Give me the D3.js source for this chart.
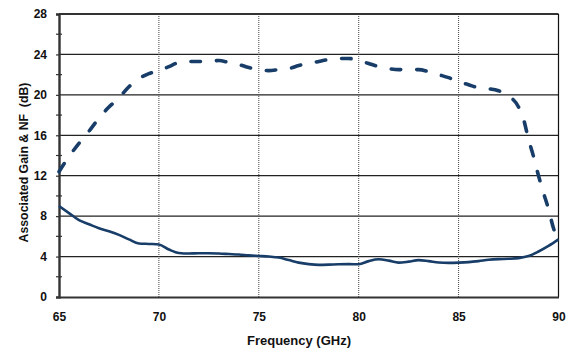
<!DOCTYPE html>
<html>
<head>
<meta charset="utf-8">
<script src="https://cdn.jsdelivr.net/npm/d3@7/dist/d3.min.js"></script>
<style>
  html, body { margin: 0; padding: 0; background: #fff; }
  svg { display: block; }
  text { font-family: Arial, "Liberation Sans", sans-serif; font-weight: bold; fill: #111; }
</style>
</head>
<body>
<svg id="chart" width="572" height="349"></svg>
<script>
// Associated gain (dashed) and noise figure (solid) versus frequency
const gainFreq = [65, 65.5, 66, 66.5, 67, 67.5, 68, 68.5, 69, 69.5, 70, 70.5, 71, 71.5, 72, 72.5, 73, 73.5, 74, 74.5, 75, 75.5, 76, 76.5, 77, 77.5, 78, 78.5, 79, 79.5, 80, 80.5, 81, 81.5, 82, 82.5, 83, 83.5, 84, 84.5, 85, 85.5, 86, 86.5, 87, 87.5, 88, 88.25, 88.5, 88.75, 89, 89.25, 89.5, 89.75, 90];
const gainDb = [12.4, 13.9, 15.2, 16.4, 17.7, 18.8, 19.7, 20.8, 21.6, 22.1, 22.4, 22.8, 23.2, 23.3, 23.3, 23.3, 23.4, 23.2, 23.0, 22.7, 22.5, 22.4, 22.5, 22.6, 22.9, 23.1, 23.3, 23.5, 23.6, 23.6, 23.4, 23.1, 22.8, 22.6, 22.5, 22.5, 22.5, 22.3, 22.0, 21.7, 21.3, 21.0, 20.7, 20.6, 20.4, 19.9, 18.8, 17.6, 15.6, 13.9, 12.0, 10.3, 8.7, 6.8, 5.6];

const nfFreq = [65, 65.5, 66, 66.5, 67, 67.5, 68, 68.5, 69, 69.5, 70, 70.5, 71, 71.5, 72, 72.5, 73, 73.5, 74, 74.5, 75, 75.5, 76, 76.5, 77, 77.5, 78, 78.5, 79, 79.5, 80, 80.5, 81, 81.5, 82, 82.5, 83, 83.5, 84, 84.5, 85, 85.5, 86, 86.5, 87, 87.5, 88, 88.5, 89, 89.5, 90];
const nfDb = [9.0, 8.3, 7.6, 7.2, 6.8, 6.5, 6.15, 5.7, 5.3, 5.25, 5.2, 4.7, 4.35, 4.3, 4.33, 4.33, 4.3, 4.25, 4.2, 4.12, 4.06, 4.0, 3.9, 3.65, 3.4, 3.25, 3.18, 3.2, 3.24, 3.25, 3.24, 3.55, 3.73, 3.6, 3.4, 3.5, 3.65, 3.55, 3.42, 3.38, 3.4, 3.45, 3.55, 3.68, 3.75, 3.78, 3.85, 4.05, 4.5, 5.05, 5.7];

const xTicks = [65, 70, 75, 80, 85, 90];
const yTicks = [0, 4, 8, 12, 16, 20, 24, 28];
const yMinorTicks = [2, 6, 10, 14, 18, 22, 26];

const xTitle = "Frequency (GHz)";
const yTitle = "Associated Gain & NF\u00a0\u00a0(dB)";

const svg = d3.select("#chart");
const plotLeft = 59, plotRight = 558.5, plotTop = 14, plotBottom = 297;

const x = d3.scaleLinear().domain([65, 90]).range([plotLeft, plotRight]);
const y = d3.scaleLinear().domain([0, 28]).range([plotBottom, plotTop]);

const lineColor = "#173d68";
const fontStack = "Arial, 'Liberation Sans', sans-serif";

// horizontal grid lines
svg.append("g").selectAll("line")
  .data(yTicks.filter(v => v > 0 && v < 28))
  .join("line")
  .attr("x1", plotLeft).attr("x2", plotRight)
  .attr("y1", d => y(d)).attr("y2", d => y(d))
  .attr("stroke", "#222").attr("stroke-width", 1.2);

// vertical dotted grid lines
svg.append("g").selectAll("line")
  .data(xTicks.filter(v => v > 65 && v < 90))
  .join("line")
  .attr("x1", d => x(d)).attr("x2", d => x(d))
  .attr("y1", plotTop).attr("y2", plotBottom)
  .attr("stroke", "#444").attr("stroke-width", 1)
  .attr("stroke-dasharray", "1,1");

// frame: top and right edges
svg.append("line").attr("x1", plotLeft).attr("x2", plotRight).attr("y1", plotTop).attr("y2", plotTop)
  .attr("stroke", "#333").attr("stroke-width", 2);
svg.append("line").attr("x1", plotRight).attr("x2", plotRight).attr("y1", plotTop).attr("y2", plotBottom)
  .attr("stroke", "#111").attr("stroke-width", 1.2);

// bottom axis
const xAxis = d3.axisBottom(x).tickValues(xTicks).tickSize(0).tickPadding(15)
  .tickFormat(d3.format("d"));
const gx = svg.append("g").attr("transform", `translate(0,${plotBottom})`).call(xAxis);
gx.select(".domain").attr("stroke", "#333").attr("stroke-width", 2.2);
gx.selectAll("text").attr("font-size", 12).attr("font-family", fontStack)
  .attr("font-weight", "bold").attr("fill", "#111");

// left axis with major and minor ticks
const yAxis = d3.axisLeft(y).tickValues(yTicks).tickSize(3).tickPadding(9)
  .tickFormat(d3.format("d"));
const gy = svg.append("g").attr("transform", `translate(${plotLeft},0)`).call(yAxis);
gy.select(".domain").attr("stroke", "#333").attr("stroke-width", 2.4);
gy.selectAll(".tick line").attr("stroke", "#333").attr("stroke-width", 1.2);
gy.selectAll("text").attr("font-size", 12).attr("font-family", fontStack)
  .attr("font-weight", "bold").attr("fill", "#111");

svg.append("g").selectAll("line")
  .data(yMinorTicks)
  .join("line")
  .attr("x1", plotLeft - 3).attr("x2", plotLeft + 3)
  .attr("y1", d => y(d)).attr("y2", d => y(d))
  .attr("stroke", "#333").attr("stroke-width", 1.2);

// series lines
const seriesLine = d3.line().x(d => x(d[0])).y(d => y(d[1])).curve(d3.curveMonotoneX);
svg.append("path")
  .datum(d3.zip(gainFreq, gainDb))
  .attr("d", seriesLine)
  .attr("fill", "none")
  .attr("stroke", lineColor)
  .attr("stroke-width", 3.6)
  .attr("stroke-linecap", "round")
  .attr("stroke-dasharray", "9.5,16");

svg.append("path")
  .datum(d3.zip(nfFreq, nfDb))
  .attr("d", seriesLine)
  .attr("fill", "none")
  .attr("stroke", lineColor)
  .attr("stroke-width", 2.6)
  .attr("stroke-linejoin", "round");

// axis titles
svg.append("text")
  .attr("x", 299).attr("y", 345)
  .attr("text-anchor", "middle").attr("font-size", 13)
  .text(xTitle);

svg.append("text")
  .attr("transform", "translate(28,162.5) rotate(-90)")
  .attr("text-anchor", "middle").attr("font-size", 12.3)
  .text(yTitle);
</script>
</body>
</html>
